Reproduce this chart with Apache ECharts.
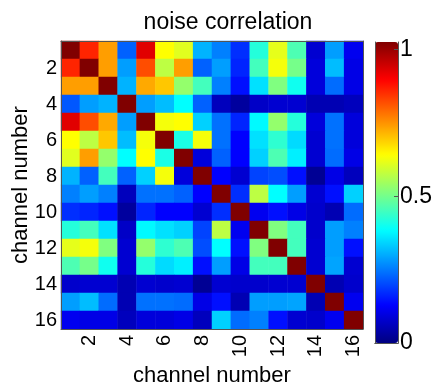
<!DOCTYPE html>
<html>
<head>
<meta charset="utf-8">
<script src="https://cdn.jsdelivr.net/npm/echarts@6/dist/echarts.min.js"></script>
<style>
  html, body { margin: 0; padding: 0; background: #fff; }
  #chart { width: 437px; height: 392px; }
</style>
</head>
<body>
<div id="chart"></div>
<script>
// channel names (x and y categories)
const channels = ['1', '2', '3', '4', '5', '6', '7', '8', '9', '10', '11', '12', '13', '14', '15', '16']

// correlation matrix, row = channel on y axis
const corr = [
  [1, 0.84, 0.72, 0.22, 0.905, 0.625, 0.595, 0.30, 0.25, 0.17, 0.41, 0.60, 0.45, 0.08, 0.28, 0.11],
  [0.84, 1, 0.72, 0.28, 0.80, 0.56, 0.72, 0.22, 0.28, 0.16, 0.44, 0.615, 0.49, 0.09, 0.31, 0.10],
  [0.72, 0.72, 1, 0.30, 0.71, 0.68, 0.52, 0.44, 0.25, 0.14, 0.345, 0.50, 0.39, 0.09, 0.23, 0.10],
  [0.21, 0.28, 0.30, 1, 0.28, 0.31, 0.375, 0.22, 0.06, 0.03, 0.07, 0.08, 0.08, 0.05, 0.05, 0.06],
  [0.905, 0.80, 0.71, 0.28, 1, 0.615, 0.625, 0.33, 0.235, 0.16, 0.37, 0.52, 0.41, 0.09, 0.235, 0.09],
  [0.625, 0.56, 0.68, 0.31, 0.615, 1, 0.40, 0.615, 0.235, 0.125, 0.345, 0.42, 0.34, 0.08, 0.235, 0.09],
  [0.595, 0.72, 0.52, 0.375, 0.625, 0.40, 1, 0.09, 0.22, 0.125, 0.33, 0.45, 0.36, 0.08, 0.23, 0.10],
  [0.30, 0.22, 0.44, 0.22, 0.33, 0.615, 0.09, 1, 0.125, 0.08, 0.19, 0.20, 0.14, 0.02, 0.10, 0.06],
  [0.25, 0.28, 0.25, 0.06, 0.235, 0.235, 0.22, 0.125, 1, 0.17, 0.56, 0.375, 0.28, 0.08, 0.14, 0.33],
  [0.17, 0.16, 0.14, 0.03, 0.16, 0.125, 0.125, 0.08, 0.17, 1, 0.11, 0.14, 0.10, 0.075, 0.05, 0.23],
  [0.41, 0.44, 0.345, 0.07, 0.37, 0.345, 0.33, 0.19, 0.56, 0.11, 1, 0.50, 0.44, 0.075, 0.28, 0.25],
  [0.60, 0.615, 0.50, 0.08, 0.52, 0.42, 0.45, 0.20, 0.375, 0.14, 0.50, 1, 0.44, 0.08, 0.28, 0.14],
  [0.45, 0.49, 0.39, 0.08, 0.41, 0.34, 0.36, 0.14, 0.28, 0.10, 0.44, 0.44, 1, 0.08, 0.285, 0.08],
  [0.075, 0.08, 0.08, 0.05, 0.08, 0.075, 0.08, 0.02, 0.08, 0.075, 0.075, 0.08, 0.08, 1, 0.05, 0.075],
  [0.28, 0.31, 0.23, 0.05, 0.235, 0.235, 0.23, 0.10, 0.14, 0.05, 0.28, 0.28, 0.285, 0.05, 1, 0.11],
  [0.11, 0.10, 0.10, 0.06, 0.09, 0.09, 0.10, 0.06, 0.33, 0.23, 0.25, 0.14, 0.08, 0.075, 0.11, 1]
]

// colorbar ticks
const barTicks = [0, 0.5, 1]

// matlab jet
const jet = ['#000080', '#0000ff', '#0080ff', '#00ffff', '#80ff80', '#ffff00', '#ff8000', '#ff0000', '#800000']

const font = 'Liberation Sans, Arial, sans-serif'
const frame = '#555'

const heatData = []
corr.forEach((row, y) => {
  row.forEach((v, x) => heatData.push([x, y, v]))
})

const evenOnly = (i) => (i + 1) % 2 === 0

const chart = echarts.init(document.getElementById('chart'), null, { renderer: 'canvas' })

const option = {
  animation: false,
  title: {
    text: 'noise correlation',
    left: 223,
    textAlign: 'center',
    top: 6,
    textStyle: { fontFamily: font, fontSize: 23, fontWeight: 'normal', color: '#000' }
  },
  grid: [
    { left: 61, top: 41, width: 302, height: 302 },
    { left: 375, top: 42, width: 23, height: 301 }
  ],
  xAxis: [
    {
      type: 'category',
      data: channels,
      gridIndex: 0,
      position: 'bottom',
      z: 10,
      name: 'channel number',
      nameLocation: 'middle',
      nameGap: 47,
      nameMoveOverlap: false,
      nameTextStyle: { fontFamily: font, fontSize: 22, color: '#000', verticalAlign: 'middle' },
      axisLine: { lineStyle: { color: frame, width: 1 } },
      axisTick: { inside: true, length: 4, alignWithLabel: true, interval: evenOnly, lineStyle: { color: frame } },
      axisLabel: { interval: evenOnly, rotate: 90, fontFamily: font, fontSize: 20, color: '#000', margin: 6 },
      splitLine: { show: false }
    },
    {
      type: 'category',
      data: channels,
      gridIndex: 0,
      position: 'top',
      z: 10,
      axisLine: { lineStyle: { color: frame, width: 1 } },
      axisTick: { inside: true, length: 4, alignWithLabel: true, interval: evenOnly, lineStyle: { color: frame } },
      axisLabel: { show: false }
    },
    {
      type: 'category',
      data: ['c'],
      gridIndex: 1,
      position: 'bottom',
      z: 10,
      axisLine: { lineStyle: { color: frame } },
      axisTick: { show: false },
      axisLabel: { show: false }
    },
    {
      type: 'category',
      data: ['c'],
      gridIndex: 1,
      position: 'top',
      z: 10,
      axisLine: { lineStyle: { color: frame } },
      axisTick: { show: false },
      axisLabel: { show: false }
    }
  ],
  yAxis: [
    {
      type: 'category',
      data: channels,
      gridIndex: 0,
      inverse: true,
      position: 'left',
      z: 10,
      name: 'channel number',
      nameLocation: 'middle',
      nameGap: 29,
      nameMoveOverlap: false,
      nameTextStyle: { fontFamily: font, fontSize: 22, color: '#000' },
      axisLine: { lineStyle: { color: frame, width: 1 } },
      axisTick: { inside: true, length: 4, alignWithLabel: true, interval: evenOnly, lineStyle: { color: frame } },
      axisLabel: { interval: evenOnly, fontFamily: font, fontSize: 20, color: '#000', margin: 4 },
      splitLine: { show: false }
    },
    {
      type: 'category',
      data: channels,
      gridIndex: 0,
      inverse: true,
      position: 'right',
      z: 10,
      axisLine: { lineStyle: { color: frame, width: 1 } },
      axisTick: { inside: true, length: 4, alignWithLabel: true, interval: evenOnly, lineStyle: { color: frame } },
      axisLabel: { show: false }
    },
    {
      type: 'value',
      gridIndex: 1,
      position: 'right',
      min: barTicks[0],
      max: 1.025,
      interval: 0.5,
      z: 10,
      axisLine: { show: true, lineStyle: { color: frame } },
      axisTick: { show: true, inside: true, length: 4, lineStyle: { color: frame } },
      axisLabel: {
        fontFamily: font, fontSize: 23, color: '#000', margin: 2,
        showMaxLabel: false,
        formatter: (v) => (barTicks.includes(v) ? String(v) : '')
      },
      splitLine: { show: false }
    },
    {
      type: 'value',
      gridIndex: 1,
      position: 'left',
      min: 0,
      max: 1.025,
      z: 10,
      axisLine: { show: true, lineStyle: { color: frame } },
      axisTick: { show: false },
      axisLabel: { show: false },
      splitLine: { show: false }
    }
  ],
  visualMap: {
    type: 'continuous',
    min: 0,
    max: 1,
    seriesIndex: 0,
    calculable: false,
    hoverLink: false,
    orient: 'vertical',
    left: 375,
    top: 42,
    padding: 0,
    itemWidth: 23,
    itemHeight: 301,
    text: null,
    showLabel: false,
    z: 1,
    inRange: { color: jet }
  },
  series: [
    {
      type: 'heatmap',
      xAxisIndex: 0,
      yAxisIndex: 0,
      data: heatData,
      itemStyle: { borderWidth: 0 },
      emphasis: { disabled: true }
    }
  ]
}

chart.setOption(option)
</script>
</body>
</html>
